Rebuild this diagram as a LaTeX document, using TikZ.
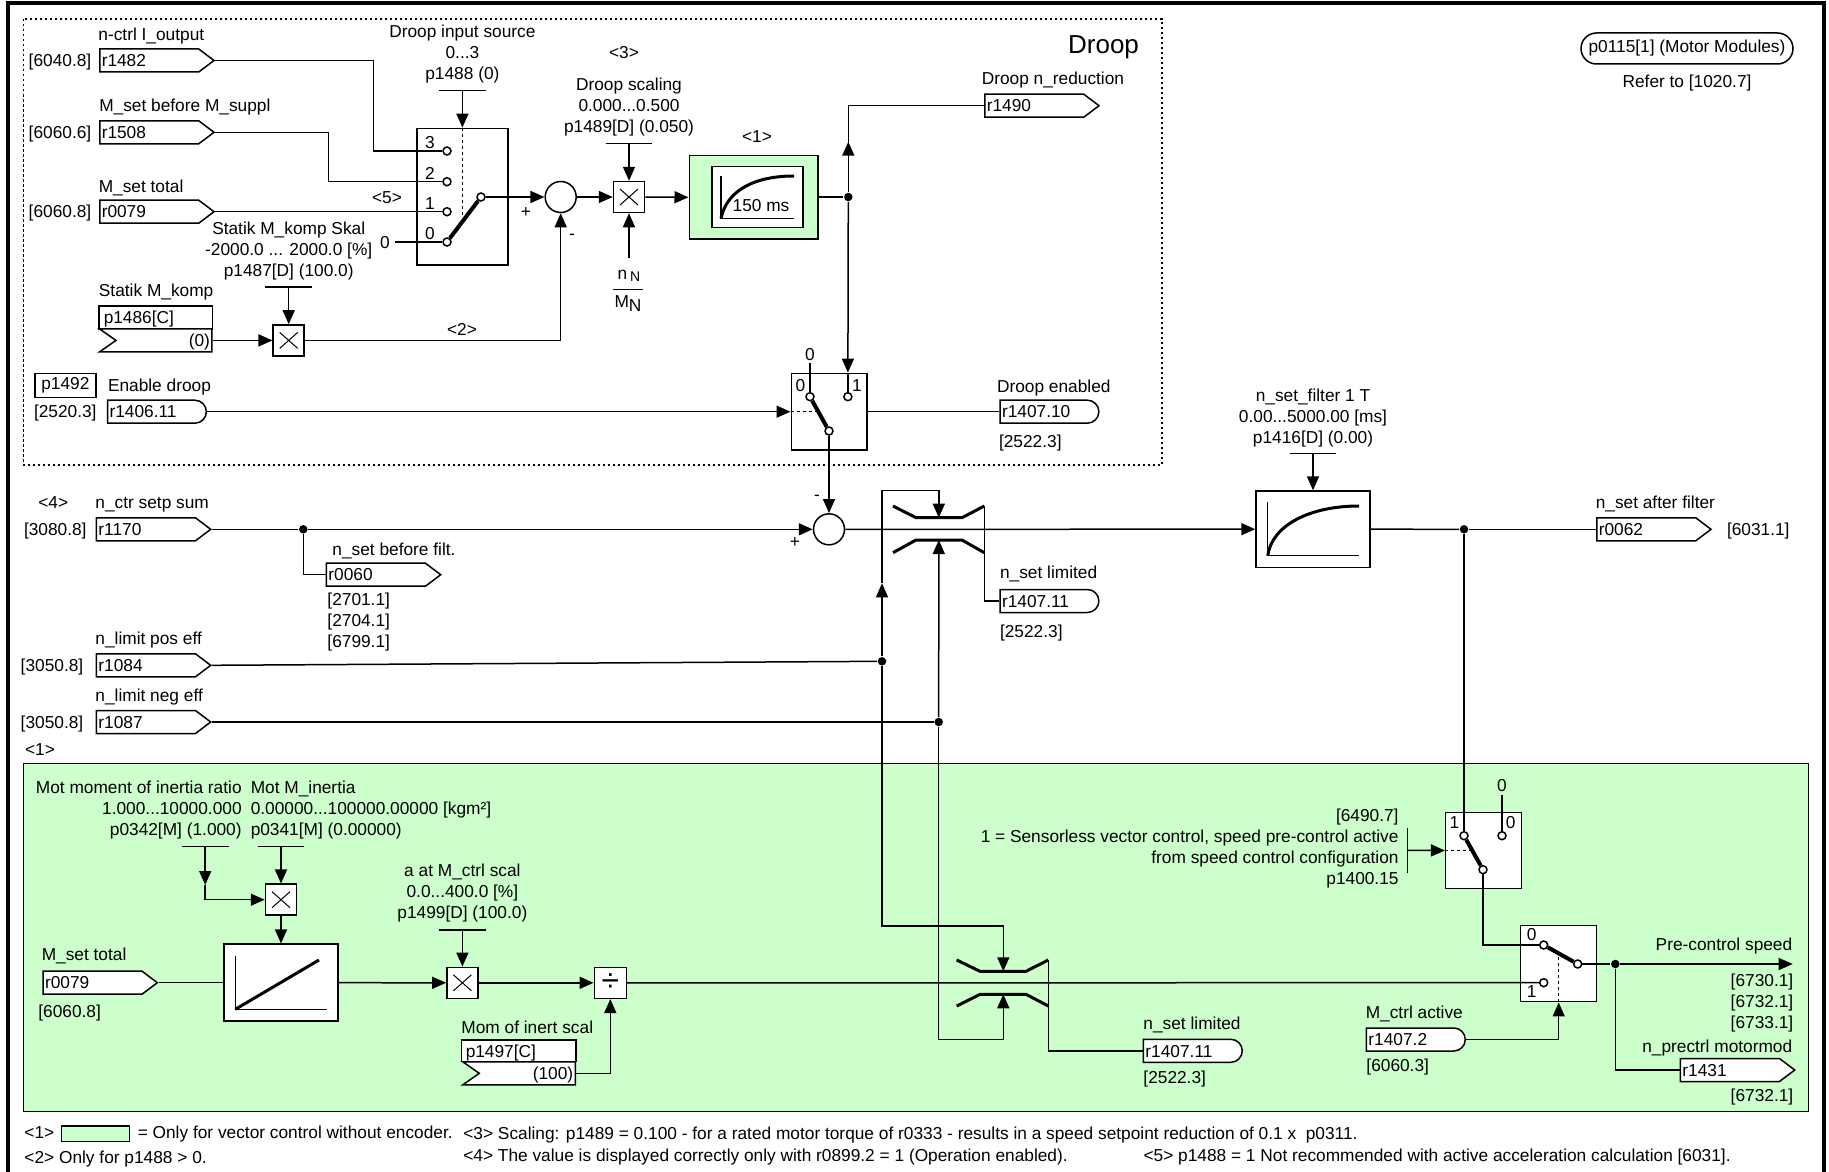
\documentclass[tikz,border=0pt]{standalone}
\usepackage{fontspec}
\setmainfont{Liberation Sans}
\usetikzlibrary{positioning,arrows.meta,shapes.symbols,shapes.misc,calc}
\newcommand{\figfont}{\fontsize{17.3}{21}\selectfont}
\definecolor{vecgreen}{RGB}{204,255,204}

\begin{document}
\begin{tikzpicture}[
  x=1pt, y=-1pt, line width=1.5pt,
  every node/.style={font=\figfont},
  lab/.style={inner sep=0pt, text height=12.4pt, text depth=0pt},
  multi/.style={inner sep=0pt, yshift=-1.75pt},
  bx/.style args={#1 and #2}{draw, fill=white, inner sep=0pt, minimum width=#1pt, minimum height=#2pt},
  outtag/.style={signal, signal to=east, signal from=nowhere, signal pointer angle=74, draw, fill=white, anchor=west, minimum height=23pt, inner xsep=2pt, inner ysep=0pt, text width=95pt, text height=12.4pt, text depth=0pt},
  intag/.style={signal, signal from=west, signal to=nowhere, signal pointer angle=70, draw, fill=white, anchor=east, minimum height=23pt, inner xsep=2pt, inner ysep=0pt, text width=92pt, align=right, text height=12.4pt, text depth=0pt},
  bintag/.style={rounded rectangle, rounded rectangle west arc=none, draw, fill=white, anchor=west, minimum height=23pt, inner xsep=2pt, inner ysep=0pt, text width=93pt, text height=12.4pt, text depth=0pt},
  contact/.style={circle, draw, fill=white, inner sep=0pt, minimum size=8pt},
  junc/.style={circle, fill=black, inner sep=0pt, minimum size=8.5pt},
  sumnode/.style={circle, draw, fill=white, inner sep=0pt, minimum size=31pt},
  mulbox/.style={bx=31 and 31, path picture={
    \draw[line width=1pt] ($(path picture bounding box.center)+(-9pt,-8pt)$) -- ($(path picture bounding box.center)+(9pt,8pt)$);
    \draw[line width=1pt] ($(path picture bounding box.center)+(-9pt,8pt)$) -- ($(path picture bounding box.center)+(9pt,-8pt)$);}},
  arr/.style={-{Triangle[length=14pt,width=12pt]}},
  lever/.style={line width=4pt},
  trace/.style={line width=3pt},
  sens/.style={dash pattern=on 3pt off 3pt}
]
\useasboundingbox (0,0) rectangle (1829,1172);
\draw[line width=4pt] (8,3) rectangle (1823.5,1185);
\draw[line width=1.5pt, dash pattern=on 2.5pt off 2.5pt] (23.7,19) rectangle (1162,465);
\node[draw, fill=vecgreen, inner sep=0pt, minimum width=1785pt, minimum height=348pt] (vecarea) at (916.1,937.4) {};

\node[inner sep=0pt, text height=18.6pt, text depth=0pt, font=\fontsize{26}{30}\selectfont, anchor=east] (droop) at (1139.7,44.3) {Droop};
\node[rounded rectangle, draw, inner sep=0pt, minimum width=212pt, minimum height=31pt] (p0115) at (1687,48.5) {p0115[1] (Motor Modules)};
\node[lab, below=9.5pt of p0115] (ref1020) {Refer to [1020.7]};

\node[outtag] (r1482) at (99,60.5) {r1482};
\node[outtag] (r1508) at (99,132.3) {r1508};
\node[outtag] (r0079) at (99,211.7) {r0079};
\node[lab, left=7pt of r1482] (x6040) {[6040.8]};
\node[lab, left=7pt of r1508] (x6060a) {[6060.6]};
\node[lab, left=7pt of r0079] (x6060b) {[6060.8]};
\node[lab, above right=7pt and -1.3pt of r1482.north west] (lr1482) {n-ctrl I\_output};
\node[lab, above right=7.5pt and -0.5pt of r1508.north west] (lr1508) {M\_set before M\_suppl};
\node[lab, above right=6pt and -1pt of r0079.north west] (lr0079) {M\_set total};

\node[bx=91.2 and 136.7] (s1) at (462.4,196.7) {};
\node[contact] (s1c3) at (447,151) {};
\node[contact] (s1c2) at (447,181.7) {};
\node[contact] (s1c1) at (447,211.7) {};
\node[contact] (s1c0) at (447,242) {};
\node[contact] (s1p) at (481,197) {};
\node[lab] (n3) at (430,142.7) {3};
\node[lab] (n2) at (430,173) {2};
\node[lab] (n1) at (430,203) {1};
\node[lab] (n0) at (430,233) {0};
\node[lab] (zero1) at (385,242) {0};
\node[lab] (note5) at (387,197) {<5>};
\node[multi, align=center] (p1488) at (462.4,52) {Droop input source\\0...3\\p1488 (0)};
\coordinate (t1488) at (462.4,90.7);

\node[sumnode] (sum1) at (560.7,197) {};
\node[lab] (plus1) at (526,211) {+};
\node[lab] (minus1) at (572,233) {-};

\node[mulbox] (mul1) at (629,197) {};
\node[lab] (note3) at (624,52.5) {<3>};
\node[multi, align=center] (p1489) at (629,105) {Droop scaling\\0.000...0.500\\p1489[D] (0.050)};
\coordinate (t1489) at (629,143.3);
\coordinate (bnN) at (629,258);
\node[lab] (nN) at (629,273) {n\,\raisebox{-2pt}{\fontsize{14}{14}\selectfont N}};
\node[lab] (MN) at (628,301.7) {M\raisebox{-4pt}{N}};
\draw[line width=1.2pt] (612.6,289.3) -- (643,289.3);

\node[bx=128.5 and 83.3, fill=vecgreen] (lpf) at (753.5,197.3) {};
\node[bx=91 and 61] (lpfin) at (757.3,197.2) {};
\node[lab] (note1a) at (757,136.7) {<1>};
\draw (721,176) -- (721,218.3) -- (794,218.3);
\draw[trace] (721,218.3) .. controls (727,190) and (755,176) .. (794,176);
\node[lab] (t150) at (761,205) {150 ms};

\node[junc] (jd) at (848.3,197) {};
\coordinate (mup) at (848.3,141.7);
\node[outtag] (r1490) at (984,105.7) {r1490};
\node[lab, above right=8pt and -3pt of r1490.north west] (lr1490) {Droop n\_reduction};

\node[bx=113.7 and 23.3] (p1486) at (155.8,317.4) {};
\node[lab, anchor=west] (tp1486) at (103,317.4) {p1486[C]};
\node[intag] (p1486in) at (212.7,340.4) {(0)};
\node[lab, above right=8pt and 0pt of p1486.north west] (lp1486) {Statik M\_komp};
\node[mulbox] (mul2) at (288.7,340.4) {};
\node[multi, align=center] (p1487) at (288.7,249) {Statik M\_komp Skal\\-2000.0 ... 2000.0 [\%]\\p1487[D] (100.0)};
\coordinate (t1487) at (288.7,287);
\node[lab] (note2) at (462,329) {<2>};

\node[bx=61.2 and 23.6] (p1492) at (65.4,385.5) {p1492};
\node[lab, right=10.5pt of p1492] (lp1492) {Enable droop};
\node[bintag] (r1406) at (106.8,411.7) {r1406.11};
\node[lab, left=9.5pt of r1406] (x2520) {[2520.3]};

\node[bx=75.5 and 76.7] (s2) at (829,411.7) {};
\node[contact] (s2c0) at (810,396.7) {};
\node[contact] (s2c1) at (847.9,396.7) {};
\node[contact] (s2p) at (829,431) {};
\coordinate (s2m) at ($(s2c0)!0.5!(s2p)$);
\node[lab] (s2n0) at (800.4,385.3) {0};
\node[lab] (s2n1) at (857,385.3) {1};
\node[lab] (s2z) at (810,354) {0};
\node[bintag] (r1407a) at (999.3,411.7) {r1407.10};
\node[lab, above right=6pt and -3pt of r1407a.north west] (lr1407a) {Droop enabled};
\node[lab, below right=10.3pt and -1pt of r1407a.south west] (x2522a) {[2522.3]};

\node[outtag] (r1170) at (95.7,529.3) {r1170};
\node[lab, left=8.4pt of r1170] (x3080) {[3080.8]};
\node[lab, above right=7.7pt and -1pt of r1170.north west] (lr1170) {n\_ctr setp sum};
\node[lab] (note4) at (53.3,502.7) {<4>};
\node[junc] (j0) at (303.3,529.3) {};
\node[outtag] (r0060) at (325.7,574.7) {r0060};
\node[lab, above right=6.5pt and 6pt of r0060.north west] (lr0060) {n\_set before filt.};
\node[inner sep=0pt, align=left, anchor=north west] (x2701) at (326.7,592) {{[2701.1]}\\{[2704.1]}\\{[6799.1]}};

\node[outtag] (r1084) at (95.7,665.3) {r1084};
\node[outtag] (r1087) at (95.7,722) {r1087};
\node[lab, left=11.7pt of r1084] (x3050a) {[3050.8]};
\node[lab, left=11.7pt of r1087] (x3050b) {[3050.8]};
\node[lab, above right=8.1pt and -1pt of r1084.north west] (lr1084) {n\_limit pos eff};
\node[lab, above right=7.4pt and -1pt of r1087.north west] (lr1087) {n\_limit neg eff};
\node[lab, anchor=west] (note1b) at (24.3,749) {<1>};

\node[sumnode] (sum2) at (829,529.3) {};
\node[lab] (minus2) at (817,494) {-};
\node[lab] (plus2) at (795,541.7) {+};
\node[junc] (jp) at (882,661.3) {};
\node[junc] (jn) at (938.7,722) {};
\coordinate (mlim) at (882,583.3);
\coordinate (l1t) at (938.8,517.7);
\coordinate (l1b) at (938.8,540);
\coordinate (l1r) at (984.3,506);
\draw[trace] (893,506) -- (916,517.7) -- (962,517.7) -- (984.3,506);
\draw[trace] (893,552.7) -- (916,540) -- (962,540) -- (984.3,552.7);
\node[bintag] (r1407b) at (999.3,601) {r1407.11};
\node[lab, above right=9.3pt and 0pt of r1407b.north west] (lr1407b) {n\_set limited};
\node[lab, below right=11pt and 0pt of r1407b.south west] (x2522b) {[2522.3]};

\node[bx=114 and 76.3] (filt) at (1313,529.2) {};
\draw (1267.7,502.3) -- (1267.7,555.7) -- (1359,555.7);
\draw[trace] (1267.7,555.7) .. controls (1272,525) and (1310,506) .. (1359,506);
\node[multi, align=center] (p1416) at (1313,416) {n\_set\_filter 1 T\\0.00...5000.00 [ms]\\p1416[D] (0.00)};
\coordinate (t1416) at (1313,453.3);
\node[junc] (jf) at (1464,529.3) {};
\node[outtag] (r0062) at (1596,529.3) {r0062};
\node[lab, above right=7.7pt and -1pt of r0062.north west] (lr0062) {n\_set after filter};
\node[lab, right=14pt of r0062] (x6031) {[6031.1]};

\node[multi, align=right, anchor=east] (p0342) at (242.4,808.3) {Mot moment of inertia ratio\\1.000...10000.000\\p0342[M] (1.000)};
\node[multi, align=left, anchor=west] (p0341) at (250,808.3) {Mot M\_inertia\\0.00000...100000.00000 [kgm²]\\p0341[M] (0.00000)};
\coordinate (t0342) at (205.2,846.7);
\coordinate (t0341) at (281,846.7);
\coordinate (m0342) at (205.2,885);
\node[mulbox] (mul3) at (281,899.7) {};
\node[bx=114 and 77] (ramp) at (281,982.7) {};
\draw (235.3,955.7) -- (235.3,1009.3) -- (327,1009.3);
\draw[trace] (235.3,1009.3) -- (319,960);
\node[outtag] (r0079b) at (42.3,982.7) {r0079};
\node[lab, above right=9.3pt and -1.3pt of r0079b.north west] (lr0079b) {M\_set total};
\node[lab, below right=9.6pt and -4.7pt of r0079b.south west] (x6060c) {[6060.8]};
\node[mulbox] (mul4) at (462.4,982.8) {};
\node[multi, align=center] (p1499) at (462.4,891.3) {a at M\_ctrl scal\\0.0...400.0 [\%]\\p1499[D] (100.0)};
\coordinate (t1499) at (462.4,930);
\node[bx=32 and 31, font=\fontsize{32}{32}\selectfont] (divbox) at (610.3,982.8) {÷};
\node[bx=114.6 and 21.7] (p1497) at (518.7,1050.8) {};
\node[lab, anchor=west] (tp1497) at (465,1050.8) {p1497[C]};
\node[intag] (p1497in) at (576,1073.3) {(100)};
\node[lab, above right=4.5pt and 0pt of p1497.north west] (lp1497) {Mom of inert scal};

\coordinate (l2t) at (1003.3,971.3);
\coordinate (l2b) at (1003.3,994.3);
\draw[trace] (956.7,960) -- (980,971.3) -- (1026,971.3) -- (1048.3,960);
\draw[trace] (956.7,1006) -- (980,994.3) -- (1026,994.3) -- (1048.3,1006);
\node[bintag] (r1407c) at (1142.7,1050.8) {r1407.11};
\node[lab, above right=8.3pt and 0pt of r1407c.north west] (lr1407c) {n\_set limited};
\node[lab, below right=7.2pt and 0pt of r1407c.south west] (x2522c) {[2522.3]};

\node[bx=75.6 and 75.6] (s3) at (1483.5,850.5) {};
\node[contact] (s3c1) at (1464,835.7) {};
\node[contact] (s3c0) at (1502,835.7) {};
\node[contact] (s3p) at (1483,869.7) {};
\coordinate (s3m) at ($(s3c1)!0.5!(s3p)$);
\node[lab] (s3n1) at (1454.3,822.7) {1};
\node[lab] (s3n0) at (1510.7,822.7) {0};
\node[lab] (s3z) at (1502,785) {0};
\node[multi, align=right, anchor=east] (p1400) at (1399.3,846.5) {{[6490.7]}\\1 = Sensorless vector control, speed pre-control active\\from speed control configuration\\p1400.15};
\coordinate (t1400) at (1407.7,850.3);

\node[bx=76 and 76] (s4) at (1558.7,963.7) {};
\node[contact] (s4c0) at (1543.7,945) {};
\node[contact] (s4c1) at (1543.7,982.7) {};
\node[contact] (s4p) at (1577.7,964) {};
\coordinate (s4m) at ($(s4c0)!0.45!(s4p)$);
\node[lab] (s4n0) at (1531.7,934.3) {0};
\node[lab] (s4n1) at (1531.7,991.7) {1};
\node[bintag] (r1407d) at (1365.7,1039.5) {r1407.2};
\node[lab, above right=8.3pt and -0.7pt of r1407d.north west] (lr1407d) {M\_ctrl active};
\node[lab, below right=6.6pt and 0pt of r1407d.south west] (x6060d) {[6060.3]};
\node[junc] (jo) at (1615.3,964) {};
\coordinate (preout) at (1792.7,964);
\node[lab, anchor=east] (lpre) at (1793,944.3) {Pre-control speed};
\node[multi, align=right, anchor=east] (x6730) at (1794,1001.7) {{[6730.1]}\\{[6732.1]}\\{[6733.1]}};
\node[outtag] (r1431) at (1679.7,1070) {r1431};
\node[lab, anchor=east] (lr1431) at (1793,1046) {n\_prectrl motormod};
\node[lab, anchor=east] (x6732) at (1794,1095) {[6732.1]};

\node[lab, anchor=west] (leg1) at (23.7,1132.7) {<1>};
\node[bx=68.4 and 15.7, fill=vecgreen] (legbox) at (95.5,1133.8) {};
\node[lab, anchor=west] (leg1b) at (137,1132.7) {= Only for vector control without encoder.};
\node[lab, anchor=west] (leg2) at (23.7,1157) {<2> Only for p1488 > 0.};
\node[lab, anchor=west] (leg3) at (462.6,1133.6) {<3> Scaling: p1489 = 0.100 - for a rated motor torque of r0333 - results in a speed setpoint reduction of 0.1 x\ \ p0311.};
\node[lab, anchor=west] (leg4) at (462.6,1155) {<4> The value is displayed correctly only with r0899.2 = 1 (Operation enabled).};
\node[lab, anchor=west] (leg5) at (1142.8,1155) {<5> p1488 = 1 Not recommended with active acceleration calculation [6031].};

\draw (r1482.east) -- ++(158,0) |- (s1c3);
\draw (r1508.east) -- ++(113,0) |- (s1c2);
\draw (r0079.east) -- (s1c1);
\draw ([xshift=4pt]zero1.east) -- (s1c0);
\draw[lever] (s1c0) -- (s1p);
\draw[sens] (s1.north) -- (462.4,216);
\draw (t1488) ++(-23.3,0) -- ++(46.6,0);
\draw[arr] (t1488) -- (s1.north);
\draw[arr] (s1p) -- (sum1.west);
\draw[arr] (sum1.east) -- (mul1.west);
\draw (t1489) ++(-23.3,0) -- ++(46.6,0);
\draw[arr] (t1489) -- (mul1.north);
\draw[arr] (bnN) -- (mul1.south);
\draw[arr] (mul1.east) -- (lpf.west);
\draw (lpf.east |- jd) -- (jd);
\draw[arr] (jd) -- (mup);
\draw (mup) |- (r1490.west);
\draw[arr] (jd) -- (s2c1 |- s2.north);
\draw (s2c1 |- s2.north) -- (s2c1);
\draw[arr] (p1486in.east) -- (mul2.west);
\draw (t1487) ++(-23.3,0) -- ++(46.6,0);
\draw[arr] (t1487) -- (mul2.north);
\draw[arr] (mul2.east) -| (sum1.south);
\draw[arr] (r1406.east) -- (s2.west);
\draw[sens] (s2.west) -- (s2m |- s2.west);
\draw (810,362.7) -- (s2c0);
\draw[lever] (s2c0) -- (s2p);
\draw (s2.east) -- (r1407a.west);
\draw[arr] (s2p) -- (sum2.north);

\draw (r1170.east) -- (j0);
\draw[arr] (j0) -- (sum2.west);
\draw (j0) |- (r0060.west);
\draw[arr] (sum2.east) -- (filt.west);
\draw (filt.east) -- (jf);
\draw (jf) -- (r0062.west);
\draw (t1416) ++(-23.3,0) -- ++(46.6,0);
\draw[arr] (t1416) -- (filt.north);
\draw (r1084.east) -- (jp);
\draw (r1087.east) -- (jn);
\draw[arr] (jp) -- (mlim);
\draw[arr] (mlim) -- (882,490.7) -| (l1t);
\draw[arr] (jn) -- (l1b);
\draw[arr] (jp) -- (882,926) -| (l2t);
\draw[arr] (jn) -- (938.7,1039.3) -| (l2b);
\draw (l1r) |- (r1407b.west);
\draw (1048.3,960) |- (r1407c.west);

\draw (t0342) ++(-23.3,0) -- ++(46.6,0);
\draw (t0341) ++(-23.3,0) -- ++(46.6,0);
\draw[arr] (t0342) -- (m0342);
\draw[arr] (m0342) |- (mul3.west);
\draw[arr] (t0341) -- (mul3.north);
\draw[arr] (mul3.south) -- (ramp.north);
\draw (r0079b.east) -- (ramp.west);
\draw[arr] (ramp.east) -- (mul4.west);
\draw (t1499) ++(-23.3,0) -- ++(46.6,0);
\draw[arr] (t1499) -- (mul4.north);
\draw[arr] (mul4.east) -- (divbox.west);
\draw[arr] (p1497in.east) -| (divbox.south);
\draw (divbox.east) -- (s4c1);

\draw (jf) -- (s3c1);
\draw (s3z.south) ++(0,3) -- (s3c0);
\draw[lever] (s3c1) -- (s3p);
\draw (t1400) ++(0,-22.8) -- ++(0,45.6);
\draw[arr] (t1400) -- (s3.west);
\draw[sens] (s3.west) -- (s3m |- s3.west);
\draw (s3p) |- (s4c0);
\draw[lever] (s4c0) -- (s4p);
\draw[sens] (s4.south) -- (s4.south |- s4m);
\draw[arr] (r1407d.east) -| (s4.south);
\draw (s4p) -- (jo);
\draw[arr] (jo) -- (preout);
\draw (jo) |- (r1431.west);
\end{tikzpicture}
\end{document}
